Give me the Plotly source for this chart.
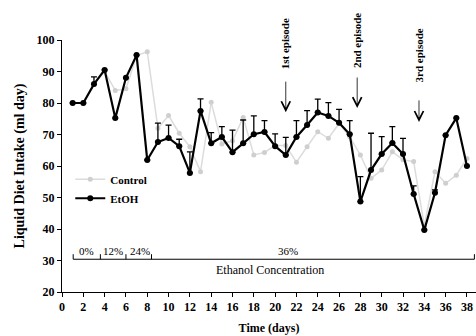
import plotly.graph_objects as go

# Daily liquid diet intake (ml/day) over the ethanol exposure protocol
days = list(range(1, 39))

etoh = [80, 80, 86, 90.5, 75.2, 88, 95.2, 61.9, 67.6, 68.9,
        66.3, 57.8, 77.5, 67.2, 69.2, 64.4, 67.2, 70.1, 70.8, 66.3,
        63.5, 69.2, 73.0, 77.0, 75.9, 73.7, 70.1, 48.7, 58.7, 63.8,
        67.3, 63.8, 51.1, 39.7, 51.5, 69.8, 75.2, 60.0]

etoh_err = [0, 0, 2.3, 0, 0, 0, 0, 0, 6.0, 4.1,
            2.2, 6.7, 3.8, 3.4, 3.3, 7.0, 7.4, 5.8, 3.6, 3.9,
            5.6, 5.2, 4.6, 4.2, 4.2, 4.3, 4.3, 7.9, 11.7, 5.5,
            5.2, 5.0, 2.6, 0, 0.9, 0, 0, 0]

control = [80, 80, 86, 90, 84, 84.5, 95, 96.3, 72, 76,
           70.4, 66.1, 58.2, 80.2, 67, 68, 75.4, 63.5, 64.3, 66.5,
           66.5, 61.2, 66.1, 70.9, 68.8, 73.5, 69.3, 63.5, 56.1, 58.7,
           64.5, 62, 61.4, 41, 58.2, 54.5, 57.1, 62.4]

# Ethanol concentration phases (day boundaries) and their labels
phase_edges = [1.05, 3.6, 6.0, 8.4, 38.7]
phase_labels = ["0%", "12%", "24%", "36%"]
phase_label_days = [2.3, 4.8, 7.3, 21.2]
phase_line_level = 30.4

# Withdrawal episodes: day, arrow tip level, arrow length (px), label level
episode_days = [21, 27.7, 33.5]
episode_tips = [77.1, 78.4, 74.0]
episode_arrow_px = [32, 32, 23]
episode_text_level = [98.9, 99.7, 95.1]
episode_labels = ["1st episode", "2nd episode", "3rd episode"]

SERIF = "Liberation Serif"

fig = go.Figure()

fig.add_trace(go.Scatter(
    x=days, y=control, name="<b>Control</b>", mode="lines+markers",
    line=dict(color="#dcdcdc", width=1.5),
    marker=dict(color="#cfcfcf", size=5),
))

fig.add_trace(go.Scatter(
    x=days, y=etoh, name="<b>EtOH</b>", mode="lines+markers",
    line=dict(color="black", width=2.2),
    marker=dict(color="black", size=6),
    error_y=dict(type="data", symmetric=False, array=etoh_err,
                 arrayminus=[0] * len(etoh_err),
                 color="black", thickness=1.3, width=3),
))

# Ethanol concentration bracket
shapes = [dict(type="line", xref="x", yref="y",
               x0=phase_edges[0], x1=phase_edges[-1],
               y0=phase_line_level, y1=phase_line_level,
               line=dict(color="black", width=1))]
for e in phase_edges:
    shapes.append(dict(type="line", xref="x", yref="y",
                       x0=e, x1=e, y0=phase_line_level, y1=phase_line_level + 1.6,
                       line=dict(color="black", width=1)))

annotations = []
for lab, d in zip(phase_labels, phase_label_days):
    annotations.append(dict(x=d, y=phase_line_level, xref="x", yref="y",
                            text=lab, showarrow=False, yanchor="bottom",
                            font=dict(family=SERIF, size=11, color="black")))
annotations.append(dict(x=19.5, y=27.0, xref="x", yref="y",
                        text="Ethanol Concentration", showarrow=False,
                        font=dict(family=SERIF, size=12, color="black")))

for d, tip, L, ty, lab in zip(episode_days, episode_tips, episode_arrow_px,
                              episode_text_level, episode_labels):
    annotations.append(dict(x=d, y=tip, xref="x", yref="y", text="",
                            showarrow=True, ax=0, ay=-L, arrowhead=5,
                            arrowsize=2.2, arrowwidth=0.8, arrowcolor="black"))
    annotations.append(dict(x=d, y=ty, xref="x", yref="y",
                            text="<b>" + lab + "</b>", textangle=-90,
                            showarrow=False,
                            font=dict(family=SERIF, size=11, color="black")))

fig.update_layout(
    width=476, height=336,
    margin=dict(l=62, r=0, t=40, b=44),
    paper_bgcolor="white", plot_bgcolor="white",
    font=dict(family=SERIF, color="black"),
    showlegend=True,
    legend=dict(x=0.02, y=0.505, xanchor="left", yanchor="top",
                bgcolor="rgba(0,0,0,0)", font=dict(family=SERIF, size=11),
                tracegroupgap=0, itemwidth=30),
    shapes=shapes, annotations=annotations,
)

fig.update_xaxes(
    range=[0, 38.85], tickmode="array", tickvals=list(range(0, 39, 2)),
    ticktext=["<b>%d</b>" % v for v in range(0, 39, 2)],
    ticks="outside", ticklen=4, tickcolor="black",
    showline=True, linecolor="black", linewidth=1,
    showgrid=False, zeroline=False,
    tickfont=dict(family=SERIF, size=12, color="black"),
    title=dict(text="<b>Time (days)</b>", standoff=10,
               font=dict(family=SERIF, size=12, color="black")),
)

fig.update_yaxes(
    range=[20, 100], tickmode="array", tickvals=list(range(20, 101, 10)),
    ticktext=["<b>%d</b>" % v for v in range(20, 101, 10)],
    ticks="outside", ticklen=4, tickcolor="black",
    showline=True, linecolor="black", linewidth=1,
    showgrid=False, zeroline=False,
    tickfont=dict(family=SERIF, size=12, color="black"),
    title=dict(text="<b>Liquid Diet Intake (ml day)</b>", standoff=8,
               font=dict(family=SERIF, size=14, color="black")),
)

fig.write_html("out.html")
